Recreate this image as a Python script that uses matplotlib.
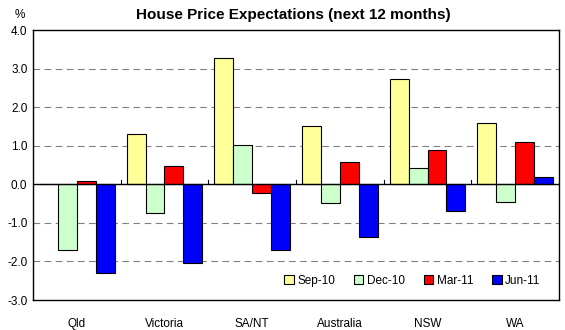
import numpy as np
import matplotlib
matplotlib.use("Agg")
import matplotlib.pyplot as plt
from matplotlib.patches import Patch

plt.rcParams['font.family'] = ['Liberation Sans', 'DejaVu Sans']

# data
regions = ['Qld', 'Victoria', 'SA/NT', 'Australia', 'NSW', 'WA']
series = ['Sep-10', 'Dec-10', 'Mar-11', 'Jun-11']
sep10 = [0.02, 1.30, 3.28, 1.52, 2.73, 1.60]
dec10 = [-1.70, -0.75, 1.02, -0.48, 0.43, -0.46]
mar11 = [0.08, 0.48, -0.23, 0.58, 0.90, 1.10]
jun11 = [-2.30, -2.05, -1.70, -1.37, -0.70, 0.20]
colors = ['#FFFF99', '#CCFFCC', '#FF0000', '#0000FF']

fig = plt.figure(figsize=(5.65, 3.30), dpi=100)
ax = fig.add_axes([0.0584, 0.0909, 0.931, 0.818])

x = np.arange(len(regions))
width = 0.215
for i, (vals, c) in enumerate(zip([sep10, dec10, mar11, jun11], colors)):
    ax.bar(x + (i - 1.5) * width, vals, width, color=c, edgecolor='black',
           linewidth=0.8, zorder=3)

ax.set_xlim(-0.5, len(regions) - 0.5)
ax.set_ylim(-3, 4)
ax.set_yticks(np.arange(-3, 5, 1))
ax.set_yticklabels(['%.1f' % v for v in np.arange(-3, 5, 1)], fontsize=8.5)
ax.tick_params(axis='y', length=0, pad=4)
ax.set_xticks(x)
ax.set_xticklabels(regions, fontsize=8.5)
ax.tick_params(axis='x', length=0, pad=13)

for v in [-2, -1, 1, 2, 3]:
    ax.axhline(v, color='#808080', linestyle=(0, (6, 4)), linewidth=0.8, zorder=1)
ax.axhline(0, color='black', linewidth=1.0, zorder=4)

# small category ticks on the zero line
for b in np.arange(0.5, len(regions) - 0.5, 1):
    ax.plot([b, b], [0, 0.1], color='black', linewidth=0.8, zorder=4)

for s in ax.spines.values():
    s.set_linewidth(1.0)

fig.text(20 / 565, 1 - 15 / 330, '%', fontsize=8.5, ha='center', va='center')
fig.text(0.52, 0.955, 'House Price Expectations (next 12 months)', ha='center',
         va='center', fontsize=11, fontweight='bold')

handles = [Patch(facecolor=c, edgecolor='black', linewidth=0.8) for c in colors]
ax.legend(handles, series, loc='lower right', ncol=4, frameon=False, fontsize=8.5,
          handlelength=0.8, handleheight=0.8, handletextpad=0.3, columnspacing=1.6,
          bbox_to_anchor=(0.985, 0.01))

fig.savefig('out.png', dpi=100)
